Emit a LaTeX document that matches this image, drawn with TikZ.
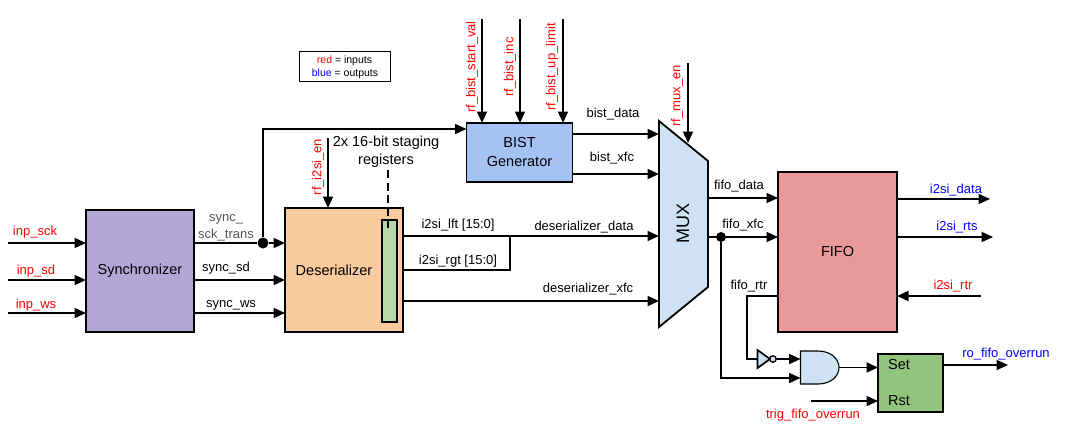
\documentclass[tikz,border=0pt]{standalone}
\usepackage{fontspec}
\setmainfont{Liberation Sans}
\usetikzlibrary{arrows.meta,calc}
\definecolor{insig}{HTML}{FF0000}
\definecolor{outsig}{HTML}{0000FF}
\definecolor{greysig}{HTML}{555555}
\tikzset{
  x=1pt,y=-1pt,
  box/.style={draw=black,line width=1.8pt,inner sep=0pt,outer sep=0pt,text=black,font=\fontsize{14.5}{18}\selectfont,align=center},
  conn/.style={line width=1.9pt,-{Triangle[length=11.5pt,width=10pt]},line join=miter},
  plainconn/.style={line width=1.9pt,line join=miter},
  lab/.style={inner sep=0pt,outer sep=0pt,font=\fontsize{13}{15}\selectfont,text=black},
  hlab/.style={lab,yshift=-1.5pt},
  inlab/.style={lab,text=insig},
  hinlab/.style={hlab,text=insig},
  outlab/.style={hlab,text=outsig},
  greylab/.style={hlab,text=greysig},
  biglab/.style={lab,font=\fontsize{14.5}{18}\selectfont},
  dot/.style={circle,fill=black,inner sep=0pt,minimum size=11pt},
}
\begin{document}
\begin{tikzpicture}
\useasboundingbox (0,0) rectangle (1092,442);
% blocks
\node[box,fill={rgb,255:red,180;green,167;blue,214},minimum width=108pt,minimum height=122pt] (syn) at (140,271) {Synchronizer};
\node[box,fill={rgb,255:red,249;green,203;blue,156},minimum width=118pt,minimum height=124pt] (des) at (344,270) {};
\node[box,fill={rgb,255:red,182;green,215;blue,168},minimum width=14.5pt,minimum height=102pt] (reg) at (389.5,271) {};
\node[biglab] (deslab) at (334,270) {Deserializer};
\node[box,fill={rgb,255:red,164;green,194;blue,244},minimum width=106pt,minimum height=59pt] (bist) at (519.5,152.5) {BIST\\[1pt]Generator};
\node[box,fill={rgb,255:red,234;green,153;blue,153},minimum width=119pt,minimum height=160pt] (fifo) at (837.5,252) {FIFO};
\node[box,fill={rgb,255:red,147;green,196;blue,125},minimum width=65pt,minimum height=58pt] (sr) at (910.5,383) {};
\node[biglab] (setlab) at (899,365) {Set};
\node[biglab] (rstlab) at (899,401) {Rst};
% mux
\coordinate (m1) at (659,121);
\coordinate (m2) at (708,161);
\coordinate (m3) at (708,287);
\coordinate (m4) at (659,327);
\filldraw[fill={rgb,255:red,207;green,226;blue,243},draw=black,line width=1.8pt,line join=miter] (m1) -- (m2) -- (m3) -- (m4) -- cycle;
\node[lab,rotate=90,font=\fontsize{18}{20}\selectfont] (muxlab) at (683,223) {MUX};
\node[inner sep=0pt,outer sep=0pt,minimum width=49pt,minimum height=206pt] (mux) at (683.5,224) {};
% and gate
\coordinate (g1) at (800.5,351);
\coordinate (g2) at (800.5,384);
\coordinate (g3) at (839,367.5);
\filldraw[fill={rgb,255:red,207;green,226;blue,243},draw=black,line width=1.1pt]
  (g1) -- (818,351) .. controls (831,351) and (839,359) .. (g3) .. controls (839,376) and (831,384) .. (818,384) -- (g2) -- cycle;
% inverter
\coordinate (i1) at (757.5,350);
\coordinate (i2) at (757.5,368);
\coordinate (i3) at (770,359);
\filldraw[fill={rgb,255:red,207;green,226;blue,243},draw=black,line width=1.7pt,line join=miter] (i1) -- (i3) -- (i2) -- cycle;
\node[circle,draw=black,fill={rgb,255:red,207;green,226;blue,243},line width=1.3pt,inner sep=0pt,minimum size=6.5pt] (bub) at (773,359) {};
% free ends
\coordinate (p1) at (8,243);
\coordinate (p2) at (8,280);
\coordinate (p3) at (8,313);
\coordinate (q1) at (0,243);
\coordinate (q2) at (0,280);
\coordinate (q3) at (0,313);
\node[dot] (j1) at (263,243) {};
\node[dot,minimum size=10pt] (j2) at (721,237) {};
% inputs to synchronizer
\draw[conn] (p1) -- (syn.west |- p1);
\draw[conn] (p2) -- (syn.west |- p2);
\draw[conn] (p3) -- (syn.west |- p3);
% synchronizer to deserializer
\draw[plainconn] (syn.east |- q1) -- (j1);
\draw[conn] (j1) -- (des.west |- q1);
\draw[conn] (syn.east |- q2) -- (des.west |- q2);
\draw[conn] (syn.east |- q3) -- (des.west |- q3);
% up to BIST
\coordinate (c1) at (263,129);
\draw[conn] (j1) -- (c1) -- (bist.west |- c1);
% rf_i2si_en
\coordinate (e1) at (328,138);
\draw[conn] (e1) -- (e1 |- des.north);
% dashed staging
\coordinate (d1) at (388,170);
\coordinate (d2) at (388,230);
\draw[line width=1.9pt,dash pattern=on 8pt off 4.5pt] (d1) -- (d2);
% bist inputs
\coordinate (b1) at (482,19);
\coordinate (b2) at (520,19);
\coordinate (b3) at (563,19);
\draw[conn] (b1) -- (b1 |- bist.north);
\draw[conn] (b2) -- (b2 |- bist.north);
\draw[conn] (b3) -- (b3 |- bist.north);
% mux enable
\coordinate (me) at (688,63);
\coordinate (met) at (688,143);
\draw[conn] (me) -- (met);
% bist to mux
\coordinate (y1) at (0,134);
\coordinate (y2) at (0,174);
\draw[conn] (bist.east |- y1) -- (mux.west |- y1);
\draw[conn] (bist.east |- y2) -- (mux.west |- y2);
% deserializer to mux
\coordinate (y3) at (0,236);
\coordinate (y4) at (0,270);
\coordinate (y5) at (0,301);
\coordinate (t1) at (510,236);
\draw[conn] (des.east |- y3) -- (mux.west |- y3);
\draw[plainconn] (des.east |- y4) -- (t1 |- y4) -- (t1);
\draw[conn] (des.east |- y5) -- (mux.west |- y5);
% mux to fifo
\coordinate (y6) at (0,198);
\coordinate (y7) at (0,237);
\draw[conn] (mux.east |- y6) -- (fifo.west |- y6);
\draw[plainconn] (mux.east |- y7) -- (j2);
\draw[conn] (j2) -- (fifo.west |- y7);
% fifo outputs
\coordinate (o1) at (990,199);
\coordinate (o2) at (993,237);
\coordinate (o3) at (981,296);
\draw[conn] (fifo.east |- o1) -- (o1);
\draw[conn] (fifo.east |- o2) -- (o2);
\draw[conn] (o3) -- (fifo.east |- o3);
% fifo_rtr to inverter
\coordinate (r1) at (747,296);
\draw[plainconn] (fifo.west |- r1) -- (r1) -- (r1 |- i3) -- ($(i1)!0.5!(i2)$);
% to and gate
\coordinate (a1) at (721,378);
\draw[conn] (bub) -- (g1 |- bub);
\draw[conn] (j2) -- (a1) -- (g1 |- a1);
% and to sr
\draw[conn] (g3) -- (sr.west |- g3);
\coordinate (t2) at (811,401);
\draw[conn] (t2) -- (sr.west |- t2);
\coordinate (o4) at (1008,365);
\draw[conn] (sr.east |- o4) -- (o4);
% labels
\node[hinlab] (l1) at (35,231) {inp\_sck};
\node[hinlab] (l2) at (36,270) {inp\_sd};
\node[hinlab] (l3) at (36,304) {inp\_ws};
\node[greylab] (l4) at (226,218) {sync\_};
\node[greylab] (l5) at (226,234) {sck\_trans};
\node[hlab] (l6) at (226,267) {sync\_sd};
\node[hlab] (l7) at (231,304) {sync\_ws};
\node[biglab] (l8) at (386,143) {2x 16-bit staging};
\node[biglab] (l9) at (386,161) {registers};
\node[inlab,rotate=90] (l10) at (318,167) {rf\_i2si\_en};
\node[inlab,rotate=90] (l11) at (472,67) {rf\_bist\_start\_val};
\node[inlab,rotate=90] (l12) at (510,67) {rf\_bist\_inc};
\node[inlab,rotate=90] (l13) at (552,67) {rf\_bist\_up\_limit};
\node[inlab,rotate=90] (l14) at (677,96) {rf\_mux\_en};
\node[hlab] (l15) at (613,113) {bist\_data};
\node[hlab] (l16) at (612,157) {bist\_xfc};
\node[hlab] (l17) at (458,224) {i2si\_lft [15:0]};
\node[hlab] (l18) at (458,260) {i2si\_rgt [15:0]};
\node[hlab] (l19) at (584,226) {deserializer\_data};
\node[hlab] (l20) at (588,288) {deserializer\_xfc};
\node[hlab] (l21) at (739,185) {fifo\_data};
\node[hlab] (l22) at (743,224) {fifo\_xfc};
\node[hlab] (l23) at (749,285) {fifo\_rtr};
\node[outlab] (l24) at (956,189) {i2si\_data};
\node[outlab] (l25) at (957,226) {i2si\_rts};
\node[hinlab] (l26) at (953,285) {i2si\_rtr};
\node[outlab] (l27) at (1006,353) {ro\_fifo\_overrun};
\node[hinlab] (l28) at (813,414) {trig\_fifo\_overrun};
% legend
\node[draw=black,line width=1pt,minimum width=91pt,minimum height=30pt,inner sep=0pt] (leg) at (345,66.8) {};
\node[lab,font=\fontsize{10.5}{12}\selectfont] (leg1) at (344.5,60.5) {\textcolor{insig}{red} = inputs};
\node[lab,font=\fontsize{10.5}{12}\selectfont] (leg2) at (345,74) {\textcolor{outsig}{blue} = outputs};
\end{tikzpicture}
\end{document}
